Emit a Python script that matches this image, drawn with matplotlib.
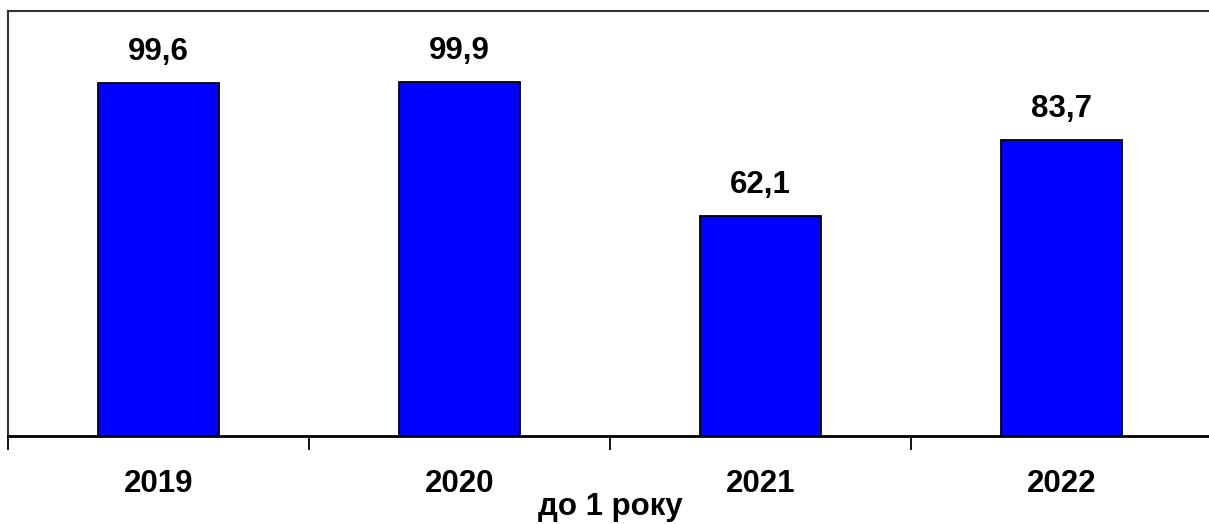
import numpy as np
import matplotlib
matplotlib.use('Agg')
import matplotlib.pyplot as plt

# Values shown on the chart
years = ['2019', '2020', '2021', '2022']
values = [99.6, 99.9, 62.1, 83.7]
x_title = 'до 1 року'

plt.rcParams['font.family'] = ['Liberation Sans', 'DejaVu Sans']
fs = 22.5

fig = plt.figure(figsize=(12.09, 5.24), dpi=100)
# axes run a little past the right edge of the figure
ax = fig.add_axes([8 / 1209, 88 / 524, 1204 / 1209, 425 / 524])

pos = np.arange(len(years))
ax.bar(pos, values, width=0.405, color='#0000ff', edgecolor='black',
       linewidth=1.3, zorder=2)

# value labels above bars, decimal comma
for p, v in zip(pos, values):
    ax.annotate(('%.1f' % v).replace('.', ','), xy=(p, v), xytext=(0, 16.5),
                textcoords='offset points', ha='center', va='baseline',
                fontsize=fs, fontweight='bold')

ax.set_xlim(-0.5, len(years) - 0.5)
ax.set_ylim(0, 120)

# category ticks sit between the bars
ax.set_xticks(np.arange(-0.5, len(years), 1.0))
ax.set_xticklabels([])
ax.set_xticks(pos, minor=True)
ax.set_xticklabels(years, minor=True, fontsize=fs, fontweight='bold')
ax.tick_params(axis='x', which='major', length=10, width=1.3, color='black')
ax.tick_params(axis='x', which='minor', length=0, pad=24)
ax.set_yticks([])

# axis title just under the tick labels
ax.set_xlabel(x_title, fontsize=fs, fontweight='bold', va='baseline')
ax.xaxis.set_label_coords(0.5, -0.187)

ax.spines['right'].set_visible(False)
for side in ['top', 'left']:
    ax.spines[side].set_color('#333333')
    ax.spines[side].set_linewidth(1.5)
ax.spines['bottom'].set_color('black')
ax.spines['bottom'].set_linewidth(2)

fig.savefig('out.png', dpi=100)
